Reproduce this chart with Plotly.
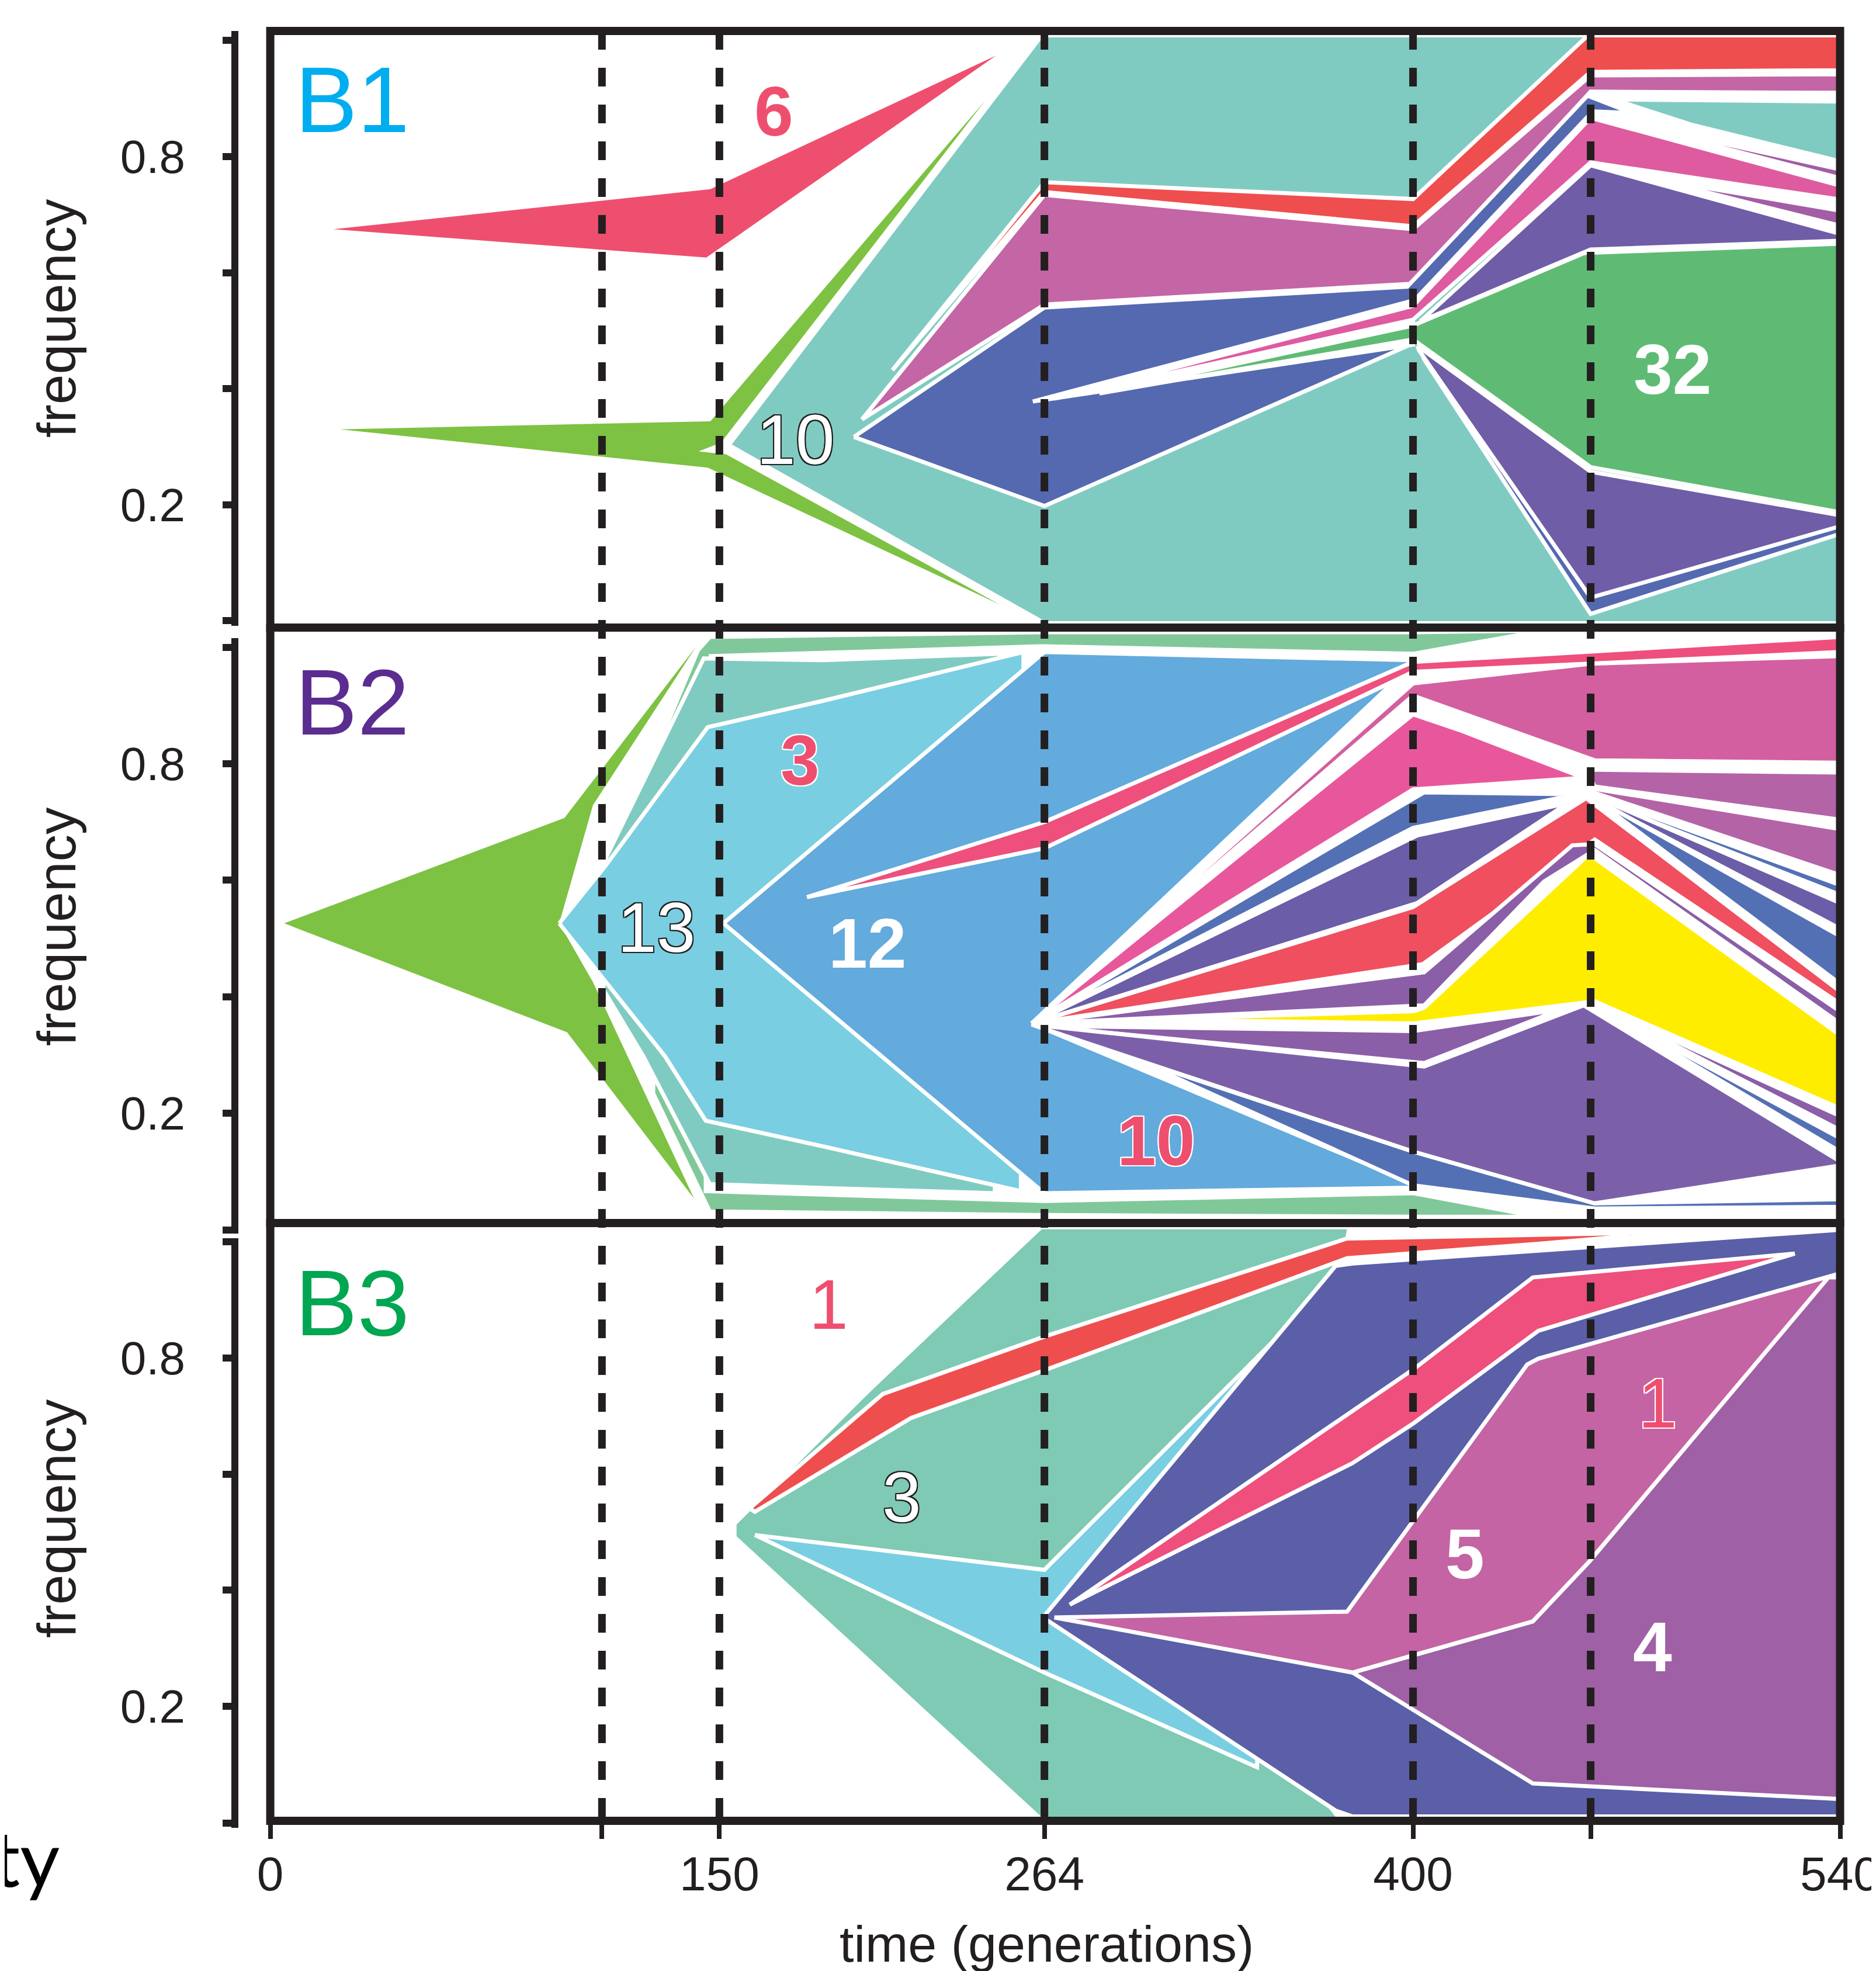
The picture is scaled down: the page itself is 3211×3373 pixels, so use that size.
import plotly.graph_objects as go

# ---------------------------------------------------------------- data
# x: time on the chart's (schematic) generation axis; y: frequency
tick_pos = [0, 114.1, 154.5, 266.3, 393.1, 454.2, 540]
tick_text = ["0", "", "150", "264", "400", "", "540"]
sample_lines = [114.1, 154.5, 266.3, 393.1, 454.2]
freq_ticks = [0, 0.2, 0.4, 0.6, 0.8, 1.0]
freq_text = ["", "0.2", "", "", "0.8", ""]

# ---- population B1
b1_six_t = [21.7, 151.4, 249.6, 150.0]
b1_six_f = [0.675, 0.744, 0.974, 0.626]
b1_anc_t = [24.0, 151.4, 246.0, 155.0, 147.3, 156.8, 251.0, 150.5]
b1_anc_f = [0.330, 0.344, 0.897, 0.307, 0.292, 0.287, 0.028, 0.264]
b1_teal_t = [157.7, 265.4, 540, 540, 266.3]
b1_teal_f = [0.303, 1.009, 1.009, -0.004, -0.004]
b1_red_t = [214.0, 266.3, 393.1, 453.3, 540, 540, 454.2, 393.1, 266.3]
b1_red_f = [0.432, 0.756, 0.727, 1.009, 1.009, 0.949, 0.946, 0.680, 0.739]
b1_mauve_t = [203.5, 266.3, 393.1, 454.2, 540, 540, 454.2, 393.1, 266.3]
b1_mauve_f = [0.347, 0.734, 0.675, 0.940, 0.942, 0.910, 0.912, 0.581, 0.545]
b1_gap_t = [453.5, 540, 540, 454.2]
b1_gap_f = [0.911, 0.909, 0.667, 0.785]
b1_blue_t = [200.8, 266.3, 391.1, 453.1, 468.5, 454.9, 393.1, 393.1, 266.3]
b1_blue_f = [0.317, 0.540, 0.576, 0.905, 0.875, 0.878, 0.550, 0.478, 0.198]
b1_notch_t = [262.3, 393.1, 393.1]
b1_notch_f = [0.378, 0.552, 0.476]
b1_magenta_t = [269.7, 393.1, 454.2, 540, 540, 454.2, 393.1]
b1_magenta_f = [0.383, 0.543, 0.867, 0.750, 0.726, 0.790, 0.519]
b1_lav1_t = [460.6, 540, 540]
b1_lav1_f = [0.866, 0.778, 0.763]
b1_teal2_t = [462.1, 540, 540, 489.3]
b1_teal2_f = [0.8985, 0.895, 0.792, 0.8545]
b1_lav2_t = [476.4, 540, 540]
b1_lav2_f = [0.761, 0.707, 0.681]
b1_dpur_t = [395.6, 454.2, 540, 540, 454.2]
b1_dpur_f = [0.516, 0.785, 0.667, 0.655, 0.640]
b1_green_t = [285.2, 393.1, 452.0, 540, 540, 454.2, 393.1]
b1_green_f = [0.392, 0.509, 0.634, 0.650, 0.187, 0.265, 0.485]
b1_bluelow_t = [396.0, 454.2, 540, 540, 454.2, 397.0]
b1_bluelow_f = [0.462, 0.045, 0.165, 0.150, 0.012, 0.450]
b1_dplow_t = [394.6, 454.2, 540, 540, 454.2, 395.2]
b1_dplow_f = [0.474, 0.257, 0.182, 0.163, 0.040, 0.466]

# ---- population B2
b2_anc_t = [4.8, 101.2, 146.5, 111.0, 99.4, 111.0, 145.8, 102.1]
b2_anc_f = [0.526, 0.707, 1.0015, 0.729, 0.526, 0.425, 0.053, 0.339]
b2_lgreen_t = [134.4, 147.1, 151.2, 266.3, 393.1, 438.2, 393.1, 266.3, 151.5, 150.0,
               149.8, 266.3, 393.1, 436.3, 393.1, 266.3, 151.2, 131.7]
b2_lgreen_f = [0.843, 0.995, 1.018, 1.026, 1.026, 1.029, 0.989, 1.002, 0.985, 0.500,
               0.066, 0.049, 0.0625, 0.022, 0.022, 0.025, 0.031, 0.234]
b2_teal_t = [115.6, 149.1, 190.0, 251.0, 252.0, 249.2, 190.0, 151.2, 128.4, 114.6]
b2_teal_f = [0.640, 0.981, 0.978, 0.989, 0.500, 0.0625, 0.0715, 0.078, 0.297, 0.412]
b2_lblue_t = [99.4, 115.5, 150.5, 190.0, 259.1, 258.2, 190.0, 149.8, 135.8, 115.5]
b2_lblue_f = [0.526, 0.626, 0.863, 0.908, 0.992, 0.066, 0.143, 0.187, 0.2975, 0.4255]
b2_sky_t = [155.9, 266.3, 393.1, 393.1, 266.3]
b2_sky_f = [0.526, 0.992, 0.978, 0.072, 0.0625]
b2_fan_t = [261.9, 385.9, 393.1, 540, 540, 440.0, 393.1]
b2_fan_f = [0.354, 0.938, 0.958, 0.990, 0.030, 0.045, 0.079]
b2_pink_t = [184.6, 266.3, 393.1, 540, 540, 393.1, 266.3]
b2_pink_f = [0.571, 0.700, 0.975, 1.018, 0.992, 0.958, 0.655]
b2_mauve_t = [261.9, 393.1, 454.2, 540, 540, 455.6, 393.1]
b2_mauve_f = [0.354, 0.938, 0.972, 0.985, 0.802, 0.806, 0.917]
b2_magenta_t = [261.9, 393.1, 409.1, 451.8, 393.1]
b2_magenta_f = [0.354, 0.885, 0.858, 0.776, 0.756]
b2_lilac1_t = [452.7, 540, 540, 455.6]
b2_lilac1_f = [0.790, 0.785, 0.704, 0.761]
b2_lilac2_t = [455.6, 540, 540, 455.6]
b2_lilac2_f = [0.757, 0.688, 0.609, 0.750]
b2_blue1_t = [261.9, 396.9, 445.9, 455.0, 540, 540, 455.0, 445.9, 393.1]
b2_blue1_f = [0.354, 0.751, 0.748, 0.746, 0.592, 0.575, 0.741, 0.744, 0.690]
b2_dpur_t = [261.9, 394.6, 445.0, 455.0, 540, 540, 455.0, 445.0, 394.6]
b2_dpur_f = [0.354, 0.677, 0.731, 0.745, 0.561, 0.517, 0.740, 0.728, 0.561]
b2_blue2_t = [455.0, 540, 540]
b2_blue2_f = [0.742, 0.504, 0.422]
b2_red_t = [261.9, 393.1, 452.7, 540, 540, 455.6, 396.5]
b2_red_f = [0.354, 0.554, 0.741, 0.409, 0.388, 0.670, 0.456]
b2_violet_t = [261.9, 396.9, 447.9, 455.6, 540, 540, 455.6, 438.2, 396.9]
b2_violet_f = [0.354, 0.442, 0.660, 0.662, 0.375, 0.354, 0.652, 0.598, 0.385]
b2_yellow_t = [298.7, 393.1, 396.9, 453.7, 540, 540, 455.6, 393.1]
b2_yellow_f = [0.361, 0.375, 0.381, 0.645, 0.334, 0.208, 0.392, 0.354]
b2_violet2_t = [263.0, 393.1, 444.0, 396.9]
b2_violet2_f = [0.350, 0.341, 0.378, 0.286]
b2_bluelow_t = [298.7, 393.1, 455.6, 540, 540, 455.6, 393.1]
b2_bluelow_f = [0.290, 0.134, 0.045, 0.052, 0.039, 0.036, 0.076]
b2_bigpur_t = [261.9, 396.9, 451.8, 540, 540, 455.6, 393.1]
b2_bigpur_f = [0.352, 0.280, 0.385, 0.117, 0.110, 0.045, 0.134]
b2_pba_t = [455.6, 540, 540]
b2_pba_f = [0.387, 0.195, 0.171]
b2_pbb_t = [455.6, 540, 540]
b2_pbb_f = [0.384, 0.157, 0.134]

# ---- population B3
b3_teal_t = [160.4, 206.2, 265.4, 370.4, 368.0, 320.0, 320.0, 366.5, 265.4, 160.4]
b3_teal_f = [0.513, 0.741, 1.022, 1.022, 0.965, 0.500, 0.300, 0.009, 0.009, 0.493]
b3_red_t = [164.9, 210.7, 266.3, 370.4, 482.7, 436.2, 370.4, 266.3, 220.5, 166.7]
b3_red_f = [0.541, 0.738, 0.837, 1.006, 1.017, 0.997, 0.972, 0.779, 0.697, 0.535]
b3_lblue_t = [166.7, 266.3, 347.2, 339.4, 266.3]
b3_lblue_f = [0.495, 0.435, 0.840, 0.095, 0.258]
b3_blue_t = [265.8, 366.5, 372.3, 540, 540, 372.3, 366.5]
b3_blue_f = [0.353, 0.959, 0.963, 1.021, 0.010, 0.010, 0.020]
b3_pink_t = [275.0, 393.6, 434.3, 524.4, 436.2, 393.1, 372.3]
b3_pink_f = [0.375, 0.782, 0.939, 0.980, 0.847, 0.687, 0.619]
b3_mauve_t = [269.7, 370.4, 432.4, 436.2, 540, 536.0, 453.7, 434.3, 372.3]
b3_mauve_f = [0.353, 0.363, 0.789, 0.799, 0.946, 0.939, 0.449, 0.346, 0.258]
b3_purple_t = [372.3, 434.3, 453.7, 536.0, 540, 540, 434.3]
b3_purple_f = [0.258, 0.346, 0.449, 0.939, 0.939, 0.040, 0.067]

# number labels: (text, time, frequency)
b1_numbers = [("6", 173.3, 0.879), ("10", 180.6, 0.313), ("32", 482.3, 0.434)]
b2_numbers = [("3", 182.3, 0.806), ("13", 132.9, 0.519), ("12", 205.4, 0.492), ("10", 304.7, 0.153)]
b3_numbers = [("1", 192.2, 0.893), ("3", 217.3, 0.560), ("5", 410.9, 0.463), ("1", 477.3, 0.723), ("4", 475.5, 0.303)]
panel_names = ["B1", "B2", "B3"]

# ---------------------------------------------------------------- styles
W, H = 3211, 3373
INK = "#231F20"
FONT = "Liberation Sans, Arial, Helvetica, sans-serif"
OUT_W = 7

C = dict(
    teal="#80CBC1", teal3="#7ECAB4", anc="#7DC242", six="#EF4F6E", red="#EF4E4E",
    mauve="#C465A5", blue="#5469B0", magenta="#DE5BA0", green="#5FBB74",
    dpur="#6F5DA8", lav="#A35DA6", lgreen="#80C89A", lblue="#79CEE2", sky="#63AADD",
    pink="#EE4F7D", mauve2="#D35FA0", magenta2="#E8579B", lilac="#B463A7",
    blue2="#5470B5", dpur2="#6B5DA7", red2="#EF4F5F", violet="#8B5EA8",
    yellow="#FFED00", bigpur="#7B60A9", blue3="#5A5FA8", mauve3="#C464A4",
    purple3="#9F60A6", white="#FFFFFF",
)
# regions that sit on the white page keep sharp tips (no white outline)
NO_OUTLINE = {"six", "anc", "teal3"}

B1_LAYERS = [
    (b1_six_t, b1_six_f, "six"), (b1_anc_t, b1_anc_f, "anc"), (b1_teal_t, b1_teal_f, "teal"),
    (b1_red_t, b1_red_f, "red"), (b1_mauve_t, b1_mauve_f, "mauve"), (b1_gap_t, b1_gap_f, "white"),
    (b1_blue_t, b1_blue_f, "blue"), (b1_notch_t, b1_notch_f, "white"),
    (b1_magenta_t, b1_magenta_f, "magenta"), (b1_lav1_t, b1_lav1_f, "lav"),
    (b1_teal2_t, b1_teal2_f, "teal"), (b1_lav2_t, b1_lav2_f, "lav"),
    (b1_dpur_t, b1_dpur_f, "dpur"), (b1_green_t, b1_green_f, "green"),
    (b1_bluelow_t, b1_bluelow_f, "blue"), (b1_dplow_t, b1_dplow_f, "dpur"),
]
B2_LAYERS = [
    (b2_anc_t, b2_anc_f, "anc"), (b2_lgreen_t, b2_lgreen_f, "lgreen"), (b2_teal_t, b2_teal_f, "teal"),
    (b2_lblue_t, b2_lblue_f, "lblue"), (b2_sky_t, b2_sky_f, "sky"), (b2_fan_t, b2_fan_f, "white"),
    (b2_pink_t, b2_pink_f, "pink"), (b2_mauve_t, b2_mauve_f, "mauve2"),
    (b2_magenta_t, b2_magenta_f, "magenta2"), (b2_lilac1_t, b2_lilac1_f, "lilac"),
    (b2_lilac2_t, b2_lilac2_f, "lilac"), (b2_blue1_t, b2_blue1_f, "blue2"),
    (b2_dpur_t, b2_dpur_f, "dpur2"), (b2_blue2_t, b2_blue2_f, "blue2"),
    (b2_red_t, b2_red_f, "red2"), (b2_violet_t, b2_violet_f, "violet"),
    (b2_yellow_t, b2_yellow_f, "yellow"), (b2_violet2_t, b2_violet2_f, "violet"),
    (b2_bluelow_t, b2_bluelow_f, "blue2"), (b2_bigpur_t, b2_bigpur_f, "bigpur"),
    (b2_pba_t, b2_pba_f, "violet"), (b2_pbb_t, b2_pbb_f, "blue2"),
]
B3_LAYERS = [
    (b3_teal_t, b3_teal_f, "teal3"), (b3_red_t, b3_red_f, "red"), (b3_lblue_t, b3_lblue_f, "lblue"),
    (b3_blue_t, b3_blue_f, "blue3"), (b3_pink_t, b3_pink_f, "pink"),
    (b3_mauve_t, b3_mauve_f, "mauve3"), (b3_purple_t, b3_purple_f, "purple3"),
]

# label styles: (color, bold, outline colour or None)
PINKTXT = "#EF4F6E"
B1_STYLE = [(PINKTXT, True, None), ("white", False, INK), ("white", True, None)]
B2_STYLE = [(PINKTXT, True, "white"), ("white", False, INK), ("white", True, None), (PINKTXT, True, "white")]
B3_STYLE = [(PINKTXT, False, None), ("white", False, INK), ("white", True, None),
            (PINKTXT, False, "white"), ("white", True, None)]
NAME_COLORS = ["#00AEEF", "#5B2D90", "#00A651"]

# panel geometry in page pixels
X0, X1 = 454.6, 3141.5
PANEL_PX = [(45, 1066), (1066, 2085), (2085, 3108)]
Y_RANGES = [(-0.0116, 1.0166), (0.0112, 1.034), (0.0025, 1.0327)]
SPINE_PX = [(45, 1063), (1084, 2102), (2113, 3120)]
NAME_Y = [162, 1193, 2221]
FREQ_Y = [537, 1578, 2591]


def px(x):
    return x / W


def py(y):
    return 1 - y / H


def outline(c, w=2):
    offs = [(-w, 0), (w, 0), (0, -w), (0, w), (-w, -w), (w, w), (-w, w), (w, -w)]
    return ", ".join(f"{dx}px {dy}px 0px {c}" for dx, dy in offs)


fig = go.Figure()
for i, layers in enumerate([B1_LAYERS, B2_LAYERS, B3_LAYERS]):
    xa = "x" if i == 0 else f"x{i+1}"
    ya = "y" if i == 0 else f"y{i+1}"
    for t, f, key in layers:
        lw = 0 if key in NO_OUTLINE else OUT_W
        fig.add_trace(go.Scatter(
            x=list(t) + [t[0]], y=list(f) + [f[0]], mode="lines", fill="toself",
            fillcolor=C[key], line=dict(color="white" if lw else C[key], width=lw),
            hoverinfo="skip", showlegend=False, xaxis=xa, yaxis=ya))

layout = dict(
    width=W, height=H, margin=dict(l=0, r=0, t=0, b=0, autoexpand=False),
    paper_bgcolor="white", plot_bgcolor="white", showlegend=False,
)
for i in range(3):
    sfx = "" if i == 0 else str(i + 1)
    top, bot = PANEL_PX[i]
    layout["xaxis" + sfx] = dict(
        domain=[px(X0), px(X1)], range=[0, 540], anchor="y" + sfx, automargin=False,
        showgrid=False, zeroline=False, showline=False, visible=(i == 2),
        tickvals=tick_pos, ticktext=tick_text, ticks="outside", ticklen=30,
        tickwidth=8, tickcolor=INK, ticklabelstandoff=-10,
        tickfont=dict(family=FONT, size=82, color=INK),
    )
    layout["yaxis" + sfx] = dict(
        domain=[py(bot), py(top)], range=list(Y_RANGES[i]), anchor="free", automargin=False,
        position=px(400), side="left", showgrid=False, zeroline=False, showline=False,
        tickvals=freq_ticks, ticktext=freq_text, ticks="outside", ticklen=27,
        tickwidth=12, tickcolor=INK, ticklabelstandoff=48,
        tickfont=dict(family=FONT, size=80, color=INK),
    )
fig.update_layout(**layout)

shapes = []
for i in range(3):
    top, bot = PANEL_PX[i]
    shapes.append(dict(type="rect", xref="paper", yref="paper", x0=px(X0), x1=px(X1),
                       y0=py(bot), y1=py(top), line=dict(color=INK, width=14),
                       fillcolor="rgba(0,0,0,0)", layer="above"))
    s0, s1 = SPINE_PX[i]
    shapes.append(dict(type="line", xref="paper", yref="paper", x0=px(394), x1=px(394),
                       y0=py(s0), y1=py(s1), line=dict(color=INK, width=12), layer="above"))
for yb in (2097, 3112):
    shapes.append(dict(type="line", xref="paper", yref="paper", x0=px(373), x1=px(400),
                       y0=py(yb), y1=py(yb), line=dict(color=INK, width=12), layer="above"))
for t in sample_lines:
    shapes.append(dict(type="line", xref="x3", yref="paper", x0=t, x1=t,
                       y0=py(PANEL_PX[0][0]), y1=py(PANEL_PX[2][1]),
                       line=dict(color=INK, width=13, dash="32px,31px"), layer="above"))

ann = []
for i in range(3):
    ann.append(dict(text=panel_names[i], xref="paper", yref="paper", x=px(495), y=py(NAME_Y[i]),
                    xanchor="left", yanchor="middle", showarrow=False,
                    font=dict(family=FONT, size=160, color=NAME_COLORS[i])))
    ann.append(dict(text="frequency", xref="paper", yref="paper", x=px(89), y=py(FREQ_Y[i]),
                    xanchor="center", yanchor="middle", textangle=-90, showarrow=False,
                    font=dict(family=FONT, size=93, color=INK)))

for i, (nums, styles) in enumerate([(b1_numbers, B1_STYLE), (b2_numbers, B2_STYLE), (b3_numbers, B3_STYLE)]):
    xa = "x" if i == 0 else f"x{i+1}"
    ya = "y" if i == 0 else f"y{i+1}"
    for (txt, t, f), (col, bold, oc) in zip(nums, styles):
        fnt = dict(family=FONT, size=120, color=col, weight=700 if bold else 400)
        if oc:
            fnt["shadow"] = outline(oc, 2)
        ann.append(dict(text=txt, xref=xa, yref=ya, x=t, y=f, xanchor="center",
                        yanchor="middle", showarrow=False, font=fnt))

ann.append(dict(text="time (generations)", xref="paper", yref="paper", x=px(1783), y=py(3318),
                xanchor="center", yanchor="middle", showarrow=False,
                font=dict(family=FONT, size=88, color=INK)))
ann.append(dict(text="ty", xref="paper", yref="paper", x=px(96), y=py(3170),
                xanchor="right", yanchor="middle", showarrow=False,
                font=dict(family="Lato, Open Sans, sans-serif", size=132, color="black")))

fig.update_layout(shapes=shapes, annotations=ann)
fig.write_html("out.html")
